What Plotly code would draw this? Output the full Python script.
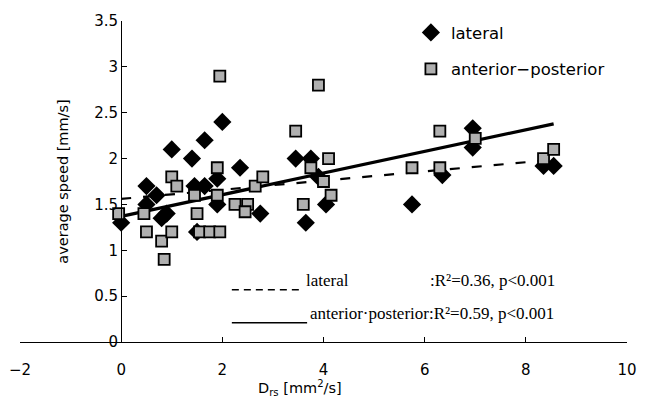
import plotly.graph_objects as go
import numpy as np

# lateral (black diamonds)
lat_x = [0.0, 0.5, 0.7, 0.5, 0.9, 0.8, 1.0, 1.4, 1.45, 1.65, 1.65, 2.0, 1.9, 1.9,
         2.35, 2.75, 1.5, 3.45, 3.75, 3.65, 4.05, 3.9, 5.75, 6.35, 6.95, 6.95, 8.35, 8.55]
lat_y = [1.3, 1.7, 1.6, 1.5, 1.4, 1.35, 2.1, 2.0, 1.7, 1.7, 2.2, 2.4, 1.78, 1.5,
         1.9, 1.4, 1.2, 2.0, 2.0, 1.3, 1.5, 1.8, 1.5, 1.82, 2.33, 2.12, 1.92, 1.92]

# anterior-posterior (grey squares)
ap_x = [-0.05, 0.45, 0.5, 0.8, 0.85, 1.0, 1.0, 1.1, 1.45, 1.5, 1.55, 1.75, 1.95, 1.9,
        1.9, 1.95, 2.25, 2.5, 2.45, 2.65, 2.8, 3.45, 3.6, 3.75, 3.9, 4.1, 4.0, 4.15,
        5.75, 6.3, 6.3, 7.0, 8.35, 8.55]
ap_y = [1.4, 1.4, 1.2, 1.1, 0.9, 1.2, 1.8, 1.7, 1.6, 1.4, 1.2, 1.2, 1.2, 1.9,
        1.6, 2.9, 1.5, 1.5, 1.42, 1.7, 1.8, 2.3, 1.5, 1.9, 2.8, 2.0, 1.75, 1.6,
        1.9, 2.3, 1.9, 2.22, 2.0, 2.1]

# regression lines (slope, intercept)
lat_fit = (0.05, 1.56)
ap_fit = (0.118, 1.37)

x_ticks = [-2, 0, 2, 4, 6, 8, 10]
y_ticks = [0, 0.5, 1, 1.5, 2, 2.5, 3, 3.5]

FONT = "DejaVu Sans"
SERIF = "Liberation Serif"

fig = go.Figure()

lx = np.array([0.0, max(lat_x)])
fig.add_trace(go.Scatter(x=lx, y=lat_fit[0] * lx + lat_fit[1], mode="lines",
                         line=dict(color="black", width=2.2, dash="10px,12px"),
                         showlegend=False, hoverinfo="skip"))
ax = np.array([0.0, max(ap_x)])
fig.add_trace(go.Scatter(x=ax, y=ap_fit[0] * ax + ap_fit[1], mode="lines",
                         line=dict(color="black", width=3.2),
                         showlegend=False, hoverinfo="skip"))

fig.add_trace(go.Scatter(x=lat_x, y=lat_y, mode="markers", name="lateral",
                         legendgroup="a",
                         marker=dict(symbol="diamond", size=14, color="black",
                                     line=dict(color="black", width=0))))
fig.add_trace(go.Scatter(x=ap_x, y=ap_y, mode="markers", name="anterior\u2212posterior",
                         legendgroup="b",
                         marker=dict(symbol="square", size=11, color="#b0b0b0",
                                     line=dict(color="black", width=1.8))))

fig.update_layout(
    width=647, height=400,
    margin=dict(l=20, r=20, t=21, b=58),
    plot_bgcolor="white", paper_bgcolor="white",
    font=dict(family=FONT, size=13, color="black"),
    legend=dict(x=0.644, y=1.018, xanchor="left", yanchor="top",
                font=dict(family=FONT, size=16.5), bgcolor="rgba(0,0,0,0)",
                tracegroupgap=12, itemwidth=30),
    xaxis=dict(range=[-2, 10], tickvals=x_ticks, showgrid=False, zeroline=False,
               showline=True, linecolor="black", linewidth=1.2, automargin=False,
               ticks="inside", ticklen=5, tickcolor="black", ticklabelstandoff=14,
               tickfont=dict(family=FONT, size=15)),
    yaxis=dict(range=[0, 3.5], tickvals=y_ticks, ticktext=[str(v) for v in y_ticks],
               showgrid=False, zeroline=False, showline=True, linecolor="black",
               linewidth=1.2, ticks="inside", ticklen=5, tickcolor="black",
               anchor="free", position=2 / 12, automargin=False,
               tickfont=dict(family=FONT, size=15)),
)

# axis titles
fig.add_annotation(text="D<sub>rs</sub> [mm<sup>2</sup>/s]", xref="paper", yref="paper",
                   x=0.461, y=-0.106, yanchor="top", showarrow=False,
                   font=dict(family=FONT, size=14.5))
fig.add_annotation(text="average speed [mm/s]", xref="paper", yref="paper",
                   x=0.053, y=0.5, textangle=-90, showarrow=False,
                   font=dict(family=FONT, size=14.5))

# fit legend at bottom
fig.add_shape(type="line", xref="paper", yref="paper", x0=0.349, x1=0.461,
              y0=0.163, y1=0.163, line=dict(color="black", width=1.5, dash="7px,5px"))
fig.add_shape(type="line", xref="paper", yref="paper", x0=0.349, x1=0.473,
              y0=0.06, y1=0.06, line=dict(color="black", width=1.5))
fig.add_annotation(text="lateral", xref="paper", yref="paper", x=0.468, y=0.155,
                   xanchor="left", yanchor="bottom", showarrow=False,
                   font=dict(family=SERIF, size=17))
fig.add_annotation(text=":R\u00b2=0.36, p<0.001", xref="paper", yref="paper", x=0.672, y=0.155,
                   xanchor="left", yanchor="bottom", showarrow=False,
                   font=dict(family=SERIF, size=17))
fig.add_annotation(text="anterior\u00b7posterior:R\u00b2=0.59, p<0.001", xref="paper",
                   yref="paper", x=0.474, y=0.052, xanchor="left", yanchor="bottom",
                   showarrow=False, font=dict(family=SERIF, size=17))

fig.write_html("out.html", config={"displayModeBar": False},
               post_script="document.body.style.margin='0px';")
